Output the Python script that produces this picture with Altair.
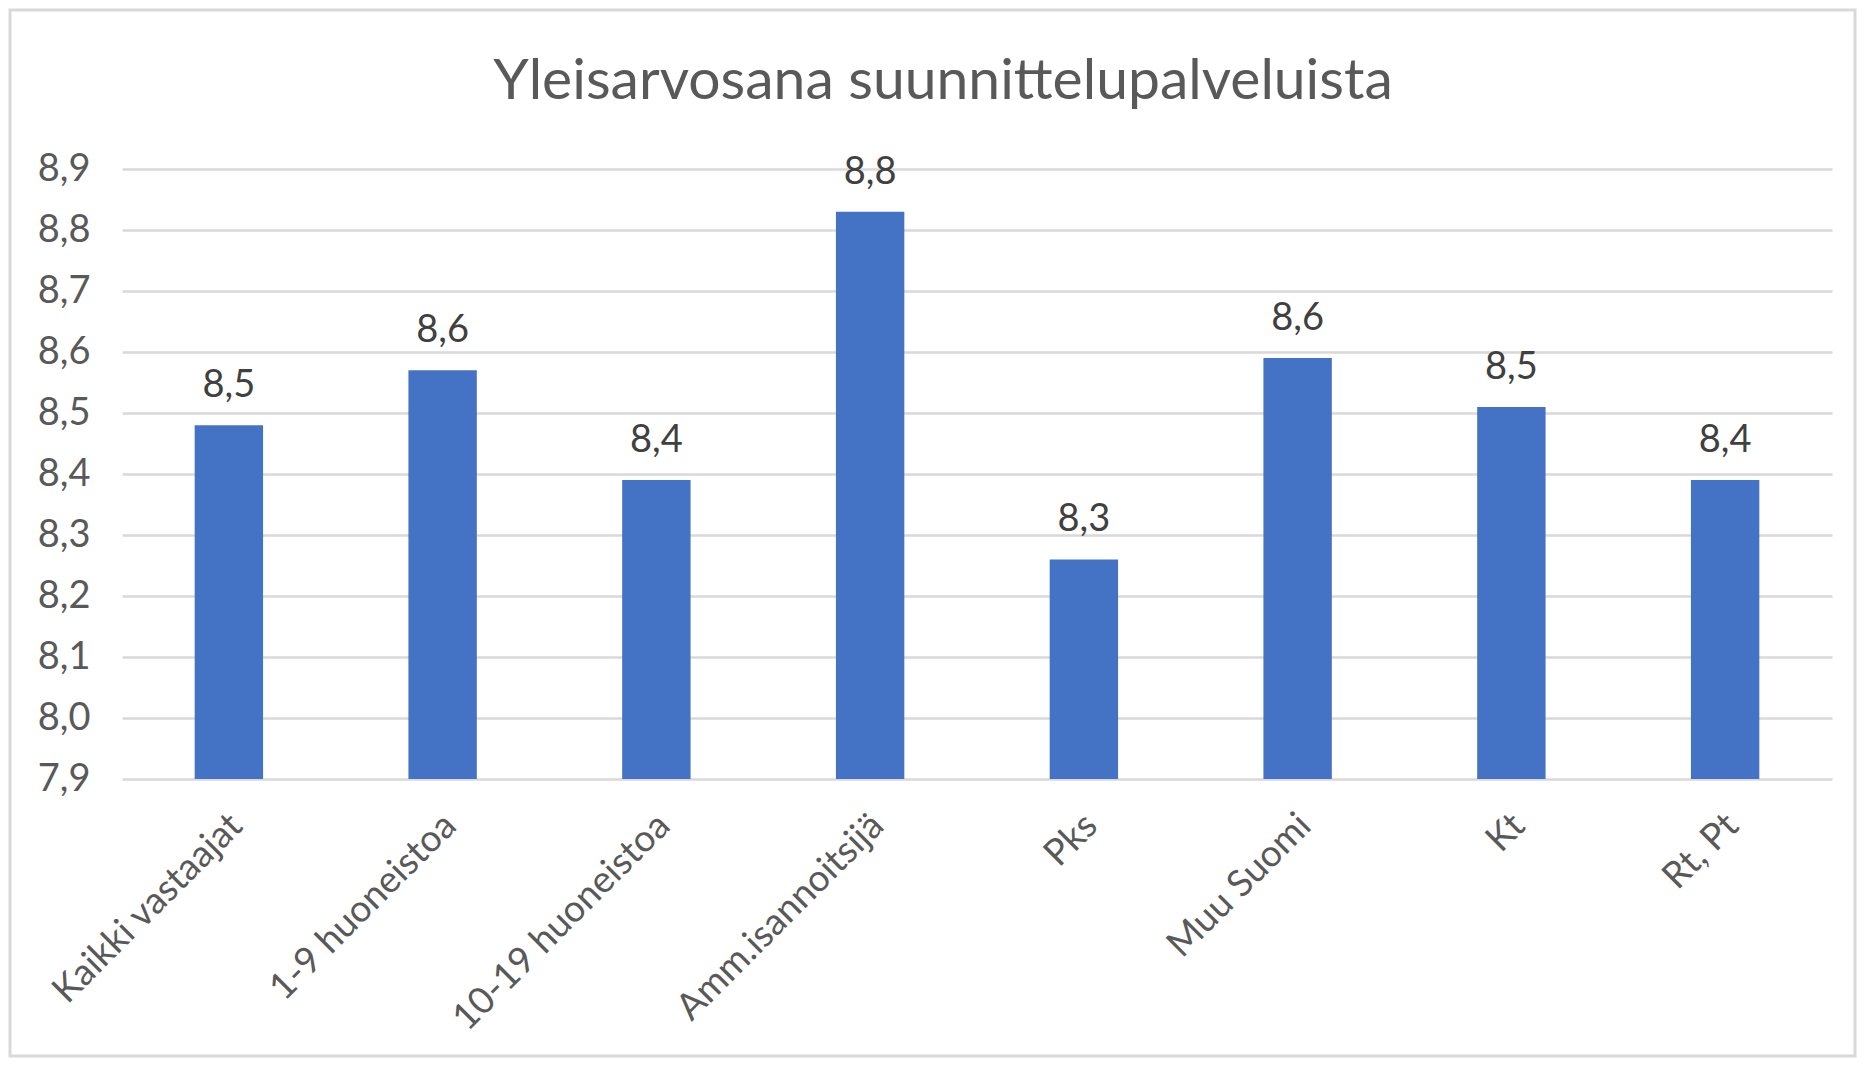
import altair as alt
import pandas as pd

categories = ["Kaikki vastaajat", "1-9 huoneistoa", "10-19 huoneistoa", "Amm.isannoitsijä",
              "Pks", "Muu Suomi", "Kt", "Rt, Pt"]
values = [8.48, 8.57, 8.39, 8.83, 8.26, 8.59, 8.51, 8.39]
y_ticks = [7.9, 8.0, 8.1, 8.2, 8.3, 8.4, 8.5, 8.6, 8.7, 8.8, 8.9]
title_text = "Yleisarvosana suunnittelupalveluista"

df = pd.DataFrame({"cat": categories, "value": values})

FONT = "Lato"
GRAY = "#595959"
W, H = 1710, 610

x_enc = alt.X(
    "cat:N", sort=categories,
    scale=alt.Scale(paddingInner=0.68, paddingOuter=0.34),
    axis=alt.Axis(title=None, labelAngle=-45, labelFontSize=37, labelFont=FONT,
                  labelColor=GRAY, ticks=False, domain=False, labelPadding=28,
                  labelOffset=-5, labelLimit=0),
)
y_scale = alt.Scale(domain=[7.9, 8.9], nice=False, zero=False)

bars = alt.Chart(df).mark_bar(color="#4472C4").encode(
    x=x_enc,
    y=alt.Y("value:Q", scale=y_scale,
            axis=alt.Axis(title=None, values=y_ticks,
                          labelExpr="replace(format(datum.value, '.1f'), '.', ',')",
                          labelFontSize=38, labelFont=FONT, labelColor=GRAY,
                          grid=True, gridColor="#d9d9d9", gridWidth=2.5,
                          domain=False, ticks=False, labelPadding=32)),
    y2=alt.datum(7.9),
)

labels = alt.Chart(df).transform_calculate(
    lbl="replace(format(datum.value, '.1f'), '.', ',')"
).mark_text(baseline="bottom", dy=-20, fontSize=38, font=FONT, color="#404040").encode(
    x=alt.X("cat:N", sort=categories),
    y=alt.Y("value:Q", scale=y_scale),
    text="lbl:N",
)

border = alt.Chart(pd.DataFrame({"a": [0]})).mark_rect(
    fill=None, stroke="#d9d9d9", strokeWidth=3
).encode(
    x=alt.value(-112), x2=alt.value(1733),
    y=alt.value(-159), y2=alt.value(887),
)

chart = alt.layer(border, bars, labels).properties(
    width=W, height=H,
    title=alt.TitleParams(title_text, fontSize=57, font=FONT, color=GRAY,
                          fontWeight="normal", anchor="middle", frame="group",
                          baseline="alphabetic", offset=-147, dx=-34),
    autosize=alt.AutoSizeParams(type="none"),
    padding={"left": 114, "top": 161, "right": 25, "bottom": 280},
).configure_view(stroke=None)

chart.save("out.html", embed_options={"renderer": "svg", "actions": False})
